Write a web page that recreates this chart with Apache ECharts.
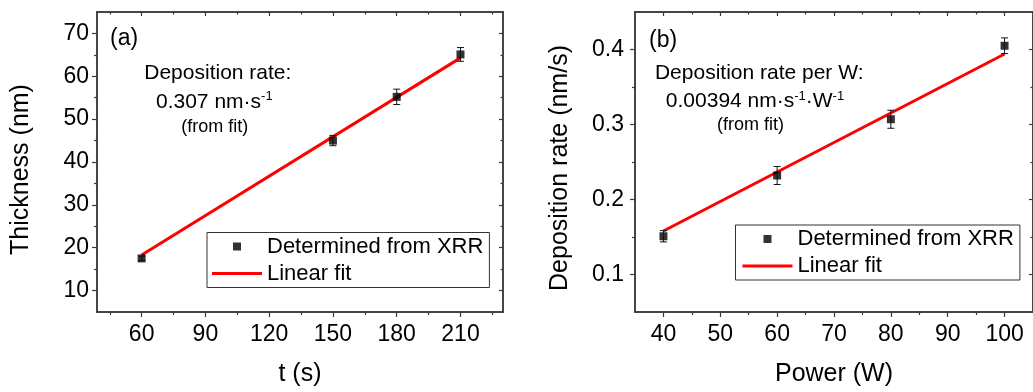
<!DOCTYPE html>
<html>
<head>
<meta charset="utf-8">
<script src="https://cdn.jsdelivr.net/npm/echarts@6/dist/echarts.min.js"></script>
<style>
html,body{margin:0;padding:0;background:#fff;}
#chart{width:1033px;height:392px;}
</style>
</head>
<body>
<div id="chart"></div>
<script>
// ---- Panel (a): thickness vs time ----
const tA = [60, 150, 180, 210];
const thickA = [17.5, 45.0, 55.2, 65.1];
const errThickA = [0.5, 1.2, 1.8, 1.6];
const fitTA = [60, 210];
const fitThickA = [18.3, 64.3];
const xMajorA = [60, 90, 120, 150, 180, 210];
const xMinorA = [45, 75, 105, 135, 165, 195, 225];
const yMajorA = [10, 20, 30, 40, 50, 60, 70];
const yMinorA = [15, 25, 35, 45, 55, 65];

// ---- Panel (b): deposition rate vs power ----
const powerB = [40, 60, 80, 100];
const rateB = [0.151, 0.232, 0.307, 0.405];
const errRateB = [0.0075, 0.012, 0.012, 0.0105];
const fitPowerB = [40, 100];
const fitRateB = [0.158, 0.394];
const xMajorB = [40, 50, 60, 70, 80, 90, 100];
const xMinorB = [45, 55, 65, 75, 85, 95];
const yMajorB = [0.1, 0.2, 0.3, 0.4];
const yMinorB = [0.15, 0.25, 0.35];

const legendNames = ['Determined from XRR', 'Linear fit'];

const FONT = "Arial, 'Liberation Sans', Helvetica, sans-serif";
const AX = '#3a3a3a';

function axisSet(dim, gridIndex, min, max, major, minor, o) {
  const base = {
    type: 'value', gridIndex: gridIndex, min: min, max: max,
    splitLine: {show: false},
    axisLine: {show: true, onZero: false, lineStyle: {color: AX, width: 1.5}},
    axisPointer: {show: false}
  };
  const main = Object.assign({}, base, {
    position: o.pos1,
    axisTick: {show: true, customValues: major, length: 5, inside: false, lineStyle: {color: AX, width: 1.2}},
    axisLabel: {show: true, customValues: major, margin: o.margin, fontSize: 23, color: '#000', fontFamily: FONT},
    name: o.name, nameLocation: 'middle', nameGap: o.nameGap,
    nameTextStyle: {fontSize: 25, color: '#000', fontFamily: FONT, padding: o.namePad || 0}
  });
  const mainMinor = Object.assign({}, base, {
    position: o.pos1,
    axisTick: {show: true, customValues: minor, length: 3, inside: false, lineStyle: {color: AX, width: 1.2}},
    axisLabel: {show: false}
  });
  const mir = Object.assign({}, base, {
    position: o.pos2,
    axisTick: {show: true, customValues: major, length: 4, inside: true, lineStyle: {color: AX, width: 1.2}},
    axisLabel: {show: false}
  });
  const mirMinor = Object.assign({}, base, {
    position: o.pos2,
    axisTick: {show: true, customValues: minor, length: 2.5, inside: true, lineStyle: {color: AX, width: 1.2}},
    axisLabel: {show: false}
  });
  return [main, mainMinor, mir, mirMinor];
}

function errRender(params, api) {
  const x = api.value(0), lo = api.value(1), hi = api.value(2);
  const top = api.coord([x, hi]), bot = api.coord([x, lo]);
  const w = 3.5;
  const st = {stroke: '#111', lineWidth: 1};
  return {type: 'group', children: [
    {type: 'line', shape: {x1: top[0], y1: top[1], x2: bot[0], y2: bot[1]}, style: st},
    {type: 'line', shape: {x1: top[0] - w, y1: top[1], x2: top[0] + w, y2: top[1]}, style: st},
    {type: 'line', shape: {x1: bot[0] - w, y1: bot[1], x2: bot[0] + w, y2: bot[1]}, style: st}
  ]};
}

const xAxes = [].concat(
  axisSet('x', 0, 39, 230, xMajorA, xMinorA, {pos1: 'bottom', pos2: 'top', margin: 11, name: 't (s)', nameGap: 50}),
  axisSet('x', 1, 35, 105, xMajorB, xMinorB, {pos1: 'bottom', pos2: 'top', margin: 11, name: 'Power (W)', nameGap: 50})
);
const yAxes = [].concat(
  axisSet('y', 0, 5, 75, yMajorA, yMinorA, {pos1: 'left', pos2: 'right', margin: 8, name: 'Thickness (nm)', nameGap: 63, namePad: [0, 15, 0, 0]}),
  axisSet('y', 1, 0.05, 0.45, yMajorB, yMinorB, {pos1: 'left', pos2: 'right', margin: 11, name: 'Deposition rate (nm/s)', nameGap: 62, namePad: [0, 12, 0, 0]})
);

function pairs(xs, ys) { return xs.map((x, i) => [x, ys[i]]); }
function bars(xs, ys, es) { return xs.map((x, i) => [x, ys[i] - es[i], ys[i] + es[i]]); }

const legendData = [
  {name: legendNames[0], icon: 'path://M0,0L10,0L10,10L0,10Z'},
  {name: legendNames[1], icon: 'path://M0,0L50,0L50,3L0,3Z'}
];

const legendBase = {
  orient: 'vertical', itemWidth: 50, itemHeight: 8, itemGap: 5,
  symbolKeepAspect: true,
  borderColor: '#333', borderWidth: 1, backgroundColor: '#fff',
  textStyle: {fontSize: 22, color: '#000', fontFamily: FONT},
  data: legendData, selectedMode: false
};

const mainRich = {fontSize: 21, lineHeight: 24, fontFamily: FONT, fill: '#000'};
const supRich = {fontSize: 13, lineHeight: 13, fontFamily: FONT, fill: '#000', verticalAlign: 'top'};

function txt(x, y, text, size, align) {
  return {type: 'text', x: x, y: y, silent: true,
    style: {text: text, fontSize: size, fontFamily: FONT, fill: '#000', align: align || 'center', verticalAlign: 'middle'}};
}
function richTxt(x, y, text) {
  return {type: 'text', x: x, y: y, silent: true,
    style: {text: text, fontSize: 21, fontFamily: FONT, fill: '#000', align: 'center', verticalAlign: 'middle',
      rich: {m: mainRich, s: supRich}}};
}

const option = {
  animation: false,
  backgroundColor: '#fff',
  grid: [
    {left: 97, top: 12, width: 406, height: 301},
    {left: 635, top: 12, width: 405, height: 301}
  ],
  xAxis: xAxes,
  yAxis: yAxes,
  legend: [
    Object.assign({}, legendBase, {left: 207, top: 232.5, padding: [3, 6, 3, 5]}),
    Object.assign({}, legendBase, {left: 735.5, top: 225, padding: [3, 6, 3, 7]})
  ],
  graphic: [
    txt(110, 38.7, '(a)', 23, 'left'),
    txt(217.8, 73.7, 'Deposition rate:', 21),
    richTxt(214.3, 102, '{m|0.307 nm·s}{s|-1}'),
    txt(214.7, 127, '(from fit)', 18),
    txt(649, 41, '(b)', 23, 'left'),
    txt(759.2, 73.7, 'Deposition rate per W:', 21),
    richTxt(755, 101.7, '{m|0.00394 nm·s}{s|-1}{m|·W}{s|-1}'),
    txt(750.5, 125.4, '(from fit)', 18)
  ],
  series: [
    {name: 'Linear fit', type: 'line', xAxisIndex: 0, yAxisIndex: 0, data: pairs(fitTA, fitThickA),
      symbol: 'none', lineStyle: {color: '#ff0000', width: 3}, itemStyle: {color: '#ff0000'}, z: 2},
    {name: 'Determined from XRR', type: 'scatter', xAxisIndex: 0, yAxisIndex: 0, data: pairs(tA, thickA),
      symbol: 'rect', symbolSize: 8, itemStyle: {color: '#000'}, z: 3},
    {name: 'errA', type: 'custom', xAxisIndex: 0, yAxisIndex: 0, data: bars(tA, thickA, errThickA),
      renderItem: errRender, encode: {x: 0, y: [1, 2]}, z: 4},
    {name: 'Linear fit', type: 'line', xAxisIndex: 4, yAxisIndex: 4, data: pairs(fitPowerB, fitRateB),
      symbol: 'none', lineStyle: {color: '#ff0000', width: 3}, itemStyle: {color: '#ff0000'}, z: 2},
    {name: 'Determined from XRR', type: 'scatter', xAxisIndex: 4, yAxisIndex: 4, data: pairs(powerB, rateB),
      symbol: 'rect', symbolSize: 8, itemStyle: {color: '#000'}, z: 3},
    {name: 'errB', type: 'custom', xAxisIndex: 4, yAxisIndex: 4, data: bars(powerB, rateB, errRateB),
      renderItem: errRender, encode: {x: 0, y: [1, 2]}, z: 4}
  ]
};

const chart = echarts.init(document.getElementById('chart'), null, {renderer: 'canvas'});
chart.setOption(option);
</script>
</body>
</html>
